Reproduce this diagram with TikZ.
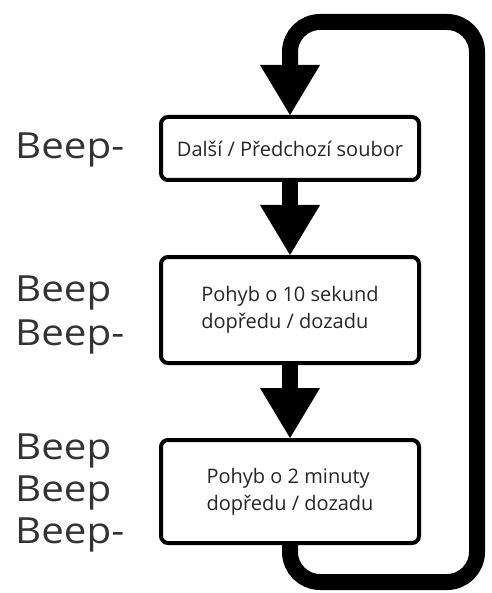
\documentclass[tikz,border=0pt]{standalone}
\usepackage{fontspec}
\setmainfont{Open Sans}
\newfontfamily\beepfont[FakeStretch=1.12]{Open Sans}
\usetikzlibrary{arrows.meta}
\begin{document}
\begin{tikzpicture}[x=1pt,y=-1pt,
  box/.style={draw=black, line width=4pt, rounded corners=7pt, fill=white,
    minimum width=258pt, align=left, inner sep=0pt,
    font=\fontsize{20}{27}\selectfont, text=black!85},
  beep/.style={anchor=base west, inner sep=0pt,
    font=\beepfont\fontsize{36}{43}\selectfont, text=black!80},
  flow/.style={line width=16pt, draw=black,
    -{Triangle[width=60pt,length=50pt,line width=0pt]}}
]
\fill[white] (0,0) rectangle (491,593);
\useasboundingbox (0,0) rectangle (491,593);

\node[box, minimum height=63pt] (b1) at (290,148.5) {Další / Předchozí soubor};
\node[box, minimum height=106pt] (b2) at (290,310) {Pohyb o 10 sekund\\dopředu / dozadu};
\node[box, minimum height=103pt] (b3) at (290,491.5) {Pohyb o 2 minuty\\dopředu / dozadu};

\coordinate (c1) at (290,582);
\coordinate (c2) at (477,582);
\coordinate (c3) at (477,22);
\coordinate (c4) at (290,22);

\draw[flow] (b1.south) -- (b2.north);
\draw[flow] (b2.south) -- (b3.north);
\draw[flow, rounded corners=30pt] (b3.south) -- (c1) -- (c2) -- (c3) -- (c4) -- (b1.north);

\node[beep] (l1) at (15,159) {Beep-};
\node[beep] (l2a) at (15,301) {Beep};
\node[beep] (l2b) at (15,345) {Beep-};
\node[beep] (l3a) at (15,459) {Beep};
\node[beep] (l3b) at (15,501) {Beep};
\node[beep] (l3c) at (15,543) {Beep-};
\end{tikzpicture}
\end{document}
